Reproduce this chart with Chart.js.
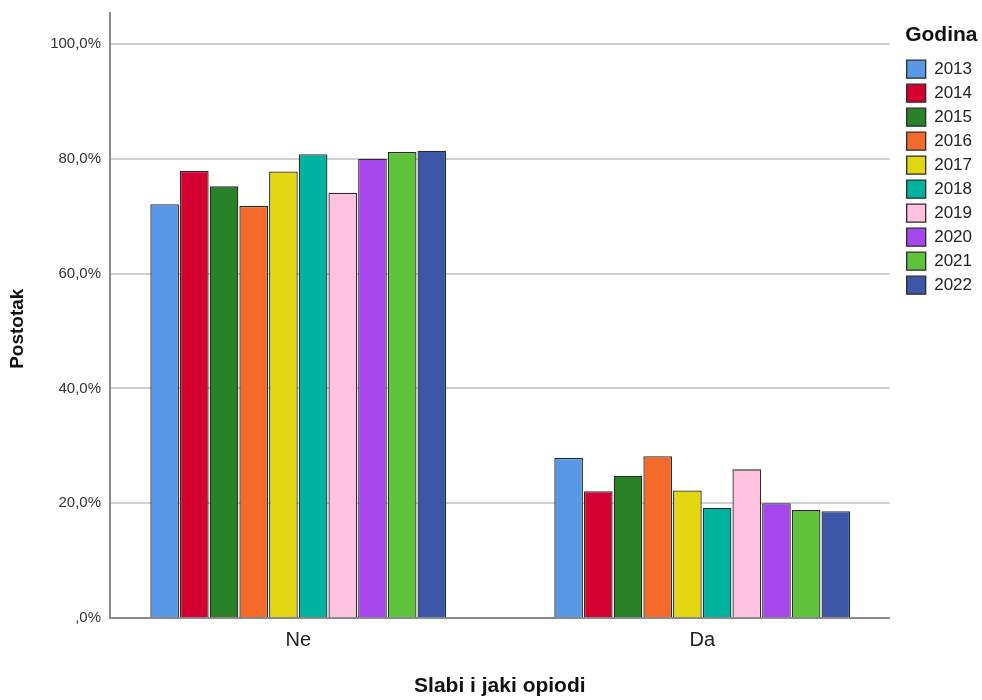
<!DOCTYPE html>
<html>
<head>
<meta charset="utf-8">
<script src="https://cdn.jsdelivr.net/npm/chart.js@4/dist/chart.umd.min.js"></script>
<style>
html, body { margin: 0; padding: 0; background: #ffffff; }
#wrap { width: 982px; height: 700px; }
canvas { display: block; }
</style>
</head>
<body>
<div id="wrap"><canvas id="chart" width="982" height="700"></canvas></div>
<script>
// ---- data ----
const categories = ['Ne', 'Da'];
const years = ['2013', '2014', '2015', '2016', '2017', '2018', '2019', '2020', '2021', '2022'];
const v2013 = [72.1, 27.9];
const v2014 = [77.9, 22.1];
const v2015 = [75.2, 24.8];
const v2016 = [71.8, 28.2];
const v2017 = [77.8, 22.2];
const v2018 = [80.8, 19.2];
const v2019 = [74.1, 25.9];
const v2020 = [80.0, 20.0];
const v2021 = [81.2, 18.8];
const v2022 = [81.4, 18.6];
const seriesValues = [v2013, v2014, v2015, v2016, v2017, v2018, v2019, v2020, v2021, v2022];
const yTickValues = [0, 20, 40, 60, 80, 100];
const yTickLabels = [',0%', '20,0%', '40,0%', '60,0%', '80,0%', '100,0%'];

// ---- styles ----
const colors = ['#5898E4', '#D50032', '#298228', '#F36A2B', '#E3D712', '#00B39E', '#FFC3E1', '#A846EE', '#5EC23A', '#3C57A7'];
const FONT = "'Liberation Sans', Arial, Helvetica, sans-serif";
Chart.defaults.font.family = FONT;

const datasets = years.map((y, i) => ({
  label: y,
  data: seriesValues[i].map((v, j) => ({ x: j, y: v })),
  backgroundColor: colors[i],
  borderColor: '#2a2a2a',
  borderWidth: 1.3,
  barPercentage: 0.965,
  categoryPercentage: 0.735
}));

new Chart(document.getElementById('chart'), {
  type: 'bar',
  data: { datasets },
  options: {
    responsive: false,
    animation: false,
    layout: { padding: { top: 13, left: 0, right: 0, bottom: 0 } },
    plugins: {
      tooltip: { enabled: false },
      legend: {
        position: 'right',
        align: 'start',
        labels: {
          boxWidth: 19,
          boxHeight: 18,
          padding: 6,
          color: '#222222',
          font: { family: FONT, size: 17 }
        },
        title: {
          display: true,
          text: 'Godina',
          position: 'center',
          color: '#111111',
          font: { family: FONT, size: 21, weight: 'bold' },
          padding: { top: 12, bottom: 4 }
        }
      }
    },
    scales: {
      x: {
        type: 'linear',
        offset: false,
        min: -0.466,
        max: 1.464,
        afterBuildTicks: (s) => { s.ticks = categories.map((c, i) => ({ value: i })); },
        afterFit: (s) => { s.height = 82; },
        ticks: {
          callback: (v) => categories[v],
          color: '#222222',
          padding: 10,
          maxRotation: 0,
          font: { family: FONT, size: 20 }
        },
        grid: { display: false, drawTicks: false, offset: false },
        border: { display: true, color: '#8a8a8a', width: 2 },
        title: {
          display: true,
          text: 'Slabi i jaki opiodi',
          color: '#111111',
          font: { family: FONT, size: 21, weight: 'bold' },
          padding: { top: 0, bottom: 1 }
        }
      },
      y: {
        min: 0,
        max: 105.4,
        afterBuildTicks: (s) => { s.ticks = yTickValues.map((v) => ({ value: v })); },
        afterFit: (s) => { s.width = 110; s.paddingTop = 0; s.paddingBottom = 0; },
        ticks: {
          callback: (v) => yTickLabels[yTickValues.indexOf(v)],
          color: '#333333',
          padding: 9,
          font: { family: FONT, size: 15 }
        },
        grid: { color: '#cfcfcf', lineWidth: 2, drawTicks: false },
        border: { display: true, color: '#8a8a8a', width: 2 },
        title: {
          display: true,
          text: 'Postotak     ',
          color: '#111111',
          font: { family: FONT, size: 19, weight: 'bold' },
          padding: { top: 6, bottom: 0 }
        }
      },
      gap: {
        type: 'linear',
        axis: 'y',
        position: 'right',
        display: true,
        afterFit: (s) => { s.width = 11; s.paddingTop = 0; s.paddingBottom = 0; },
        ticks: { display: false },
        grid: { display: false, drawTicks: false },
        border: { display: false }
      }
    }
  }
});
</script>
</body>
</html>
